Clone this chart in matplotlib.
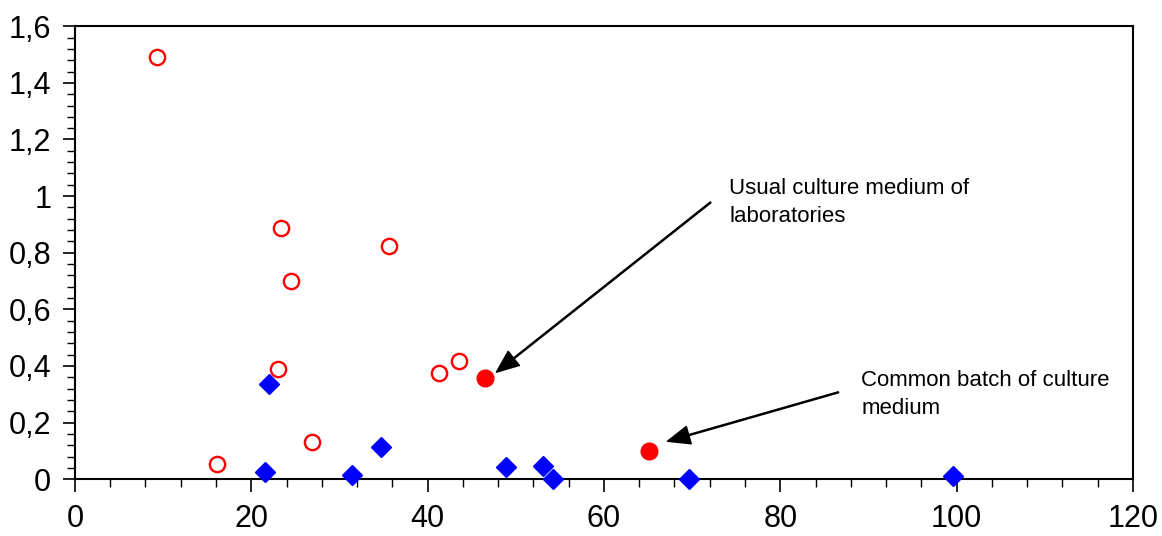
import matplotlib.pyplot as plt
from matplotlib.ticker import MultipleLocator, FuncFormatter

plt.rcParams['font.family'] = ['Liberation Sans', 'DejaVu Sans']

# open red circles
open_x = [9.3, 16.1, 23.4, 24.5, 23.0, 26.9, 35.6, 41.3, 43.6]
open_y = [1.493, 0.055, 0.889, 0.699, 0.388, 0.130, 0.822, 0.374, 0.416]

# filled red circles (annotated media)
filled_x = [46.5, 65.1]
filled_y = [0.356, 0.099]

# blue diamonds
blue_x = [22.0, 21.6, 31.4, 34.7, 48.9, 53.1, 54.2, 69.6, 99.6]
blue_y = [0.335, 0.026, 0.014, 0.113, 0.042, 0.047, 0.0, 0.0, 0.012]

fig = plt.figure(figsize=(11.62, 5.36), dpi=100)
ax = fig.add_axes([0.0645, 0.106, 0.9105, 0.845])

ax.plot(blue_x, blue_y, 'D', color='blue', markersize=10.5, clip_on=False, zorder=3)
ax.plot(open_x, open_y, 'o', markerfacecolor='white', markeredgecolor='red',
        markeredgewidth=1.7, markersize=11, clip_on=False, zorder=3)
ax.plot(filled_x, filled_y, 'o', color='red', markersize=12, clip_on=False, zorder=3)

ax.set_xlim(0, 120)
ax.set_ylim(0, 1.6)
ax.xaxis.set_major_locator(MultipleLocator(20))
ax.xaxis.set_minor_locator(MultipleLocator(4))
ax.yaxis.set_major_locator(MultipleLocator(0.2))
ax.yaxis.set_minor_locator(MultipleLocator(0.04))
ax.yaxis.set_major_formatter(FuncFormatter(lambda v, p: ('%g' % round(v, 2)).replace('.', ',')))

for s in ax.spines.values():
    s.set_linewidth(1.5)
ax.tick_params(which='major', direction='out', length=9, width=1.2, labelsize=22, pad=8)
ax.tick_params(which='minor', direction='out', length=6, width=1.0)
ax.tick_params(axis='x', pad=9)

ap = dict(facecolor='black', edgecolor='black', width=0.8, headwidth=13, headlength=16, shrink=0)
ax.annotate('', xy=(47.8, 0.378), xytext=(72.1, 0.978), arrowprops=ap)
ax.text(74.2, 1.065, 'Usual culture medium of\nlaboratories', fontsize=16,
        va='top', ha='left', linespacing=1.45)
ax.annotate('', xy=(67.2, 0.134), xytext=(86.6, 0.307), arrowprops=ap)
ax.text(89.2, 0.385, 'Common batch of culture\nmedium', fontsize=16,
        va='top', ha='left', linespacing=1.45)

fig.savefig('out.png', dpi=100)
